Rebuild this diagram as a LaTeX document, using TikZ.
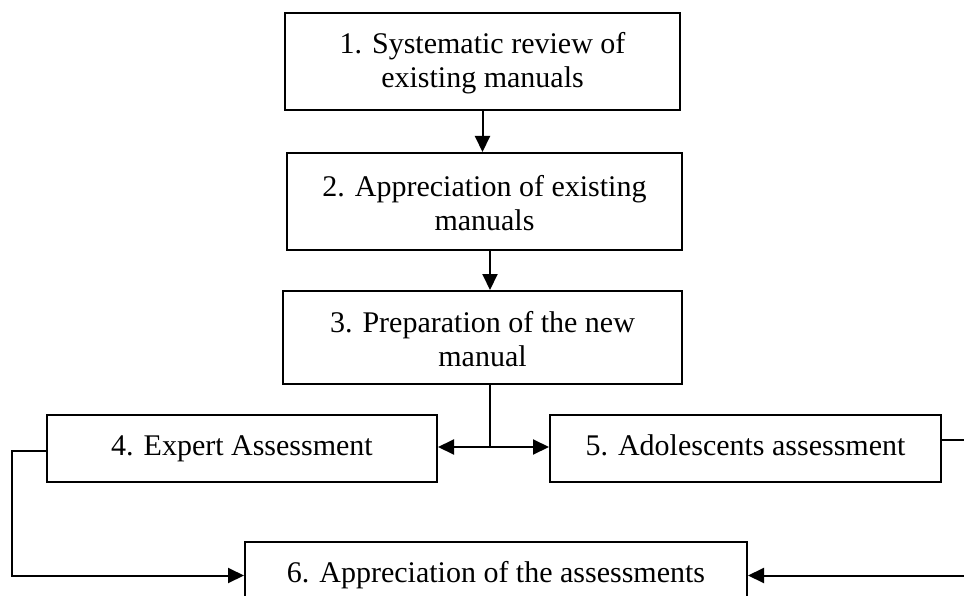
\documentclass[tikz,border=0pt]{standalone}
\usepackage{fontspec}
\setmainfont{Liberation Serif}
\usetikzlibrary{arrows.meta}
\begin{document}
\begin{tikzpicture}[x=1pt,y=-1pt,
  box/.style={draw,line width=2pt,inner sep=0pt,align=center,
    font=\fontsize{30}{34}\selectfont},
  onebox/.style={box,text height=20pt,text depth=6pt},
  conn/.style={line width=2pt},
  arr/.style={conn,-{Triangle[length=16pt,width=15pt]}}]
\useasboundingbox (0,0) rectangle (964,596);
\clip (0,0) rectangle (964,596);
\fill[white] (0,0) rectangle (964,596);
\node[box,minimum width=395pt,minimum height=97pt] (n1) at (482.5,61.5) {\strut 1. Systematic review of\\existing manuals};
\node[box,minimum width=395pt,minimum height=97pt] (n2) at (484.5,201.5) {\strut 2. Appreciation of existing\\manuals};
\node[box,minimum width=399pt,minimum height=93pt] (n3) at (482.5,337.5) {\strut 3. Preparation of the new\\manual};
\node[onebox,minimum width=390pt,minimum height=67pt] (n4) at (242,448.5) {4. Expert Assessment};
\node[onebox,minimum width=391pt,minimum height=67pt] (n5) at (745.5,448.5) {5. Adolescents assessment};
\node[onebox,minimum width=502pt,minimum height=67pt] (n6) at (496,575.5) {6. Appreciation of the assessments};
\coordinate (j) at (490,447);
\coordinate (lft) at (12,451);
\coordinate (rgt) at (980,440);
\draw[arr] (n1.south) -- (n1.south |- n2.north);
\draw[arr] (n2.south -| j) -- (n3.north -| j);
\draw[conn] (n3.south -| j) -- (j);
\draw[arr] (j) -- (j -| n4.east);
\draw[arr] (j) -- (j -| n5.west);
\draw[arr] (n4.west |- lft) -- (lft) |- (n6.west);
\draw[conn] (n5.east |- rgt) -- (rgt);
\draw[arr] (rgt) |- (n6.east);
\end{tikzpicture}
\end{document}
